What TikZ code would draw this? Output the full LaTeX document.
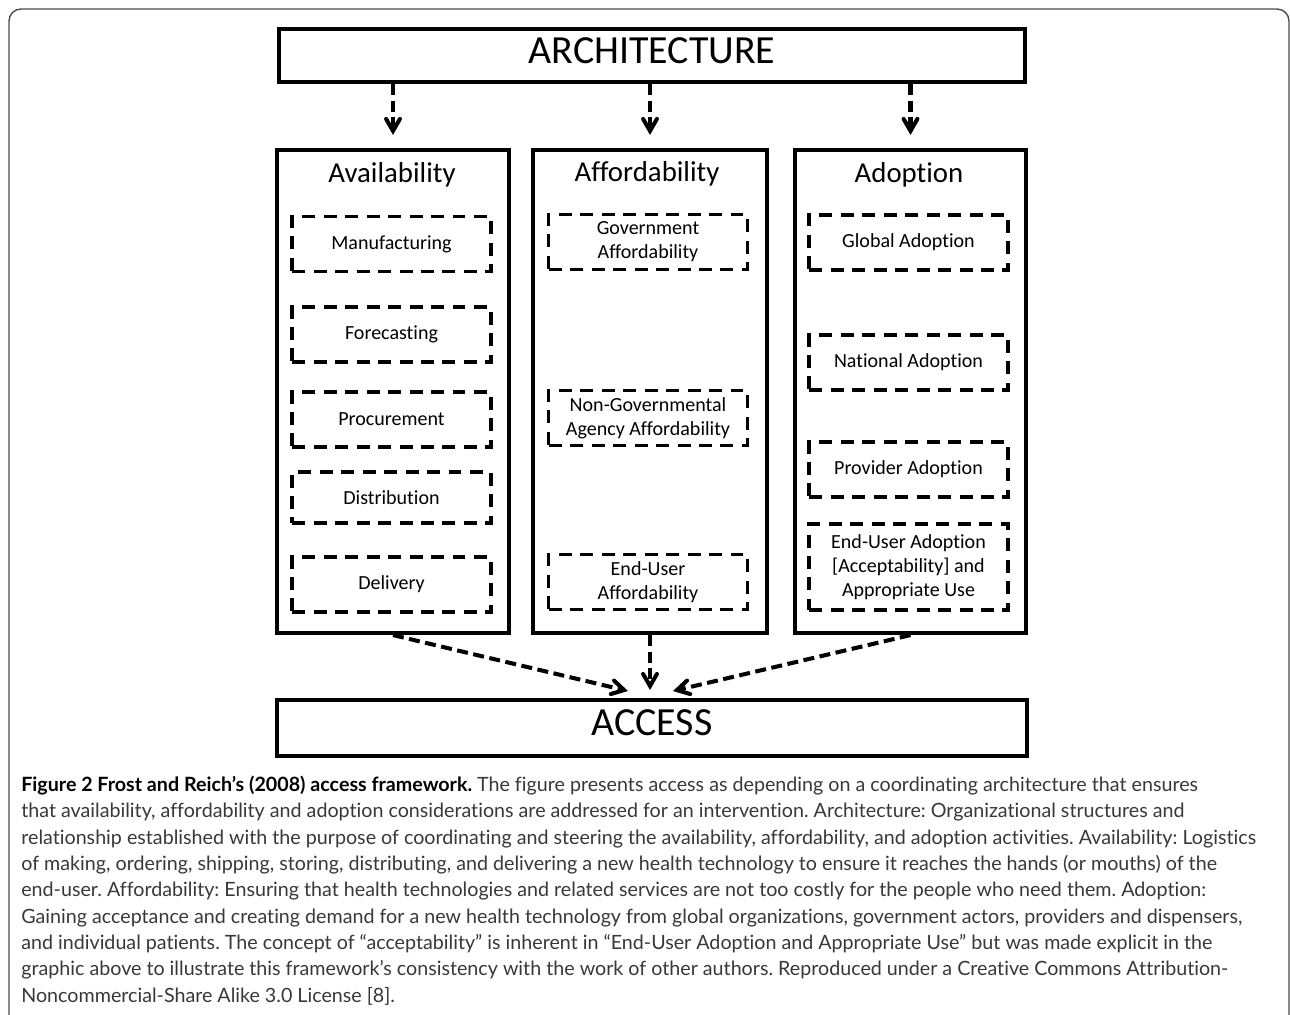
\documentclass[tikz,border=0pt]{standalone}
\usepackage{fontspec}
\setmainfont{Carlito}[Ligatures={TeX,CommonOff}]
\newfontfamily\capfont{Lato}[Ligatures={TeX,CommonOff}]
\usepackage{tikz}
\usetikzlibrary{shapes,arrows}
\usetikzlibrary{calc,positioning}
\frenchspacing

\begin{document}
\begin{tikzpicture}[x=0.02cm,y=-0.02cm,
	outerbox/.style={draw,rectangle,line width=2.4pt,inner sep=0pt},
	dashbox/.style={draw,rectangle,line width=2pt,dash pattern=on 0.26cm off 0.17cm,
		minimum width=3.98cm,minimum height=1.1cm,inner sep=0pt,align=center,
		font=\fontsize{11.4}{13.6}\selectfont},
	title/.style={font=\fontsize{16.4}{20}\selectfont},
	flow/.style={line width=2.3pt,->,>= angle 60,dash pattern=on 0.22cm off 0.11cm}]
	\useasboundingbox (0,0) rectangle (1290,1014);
	% frame round the figure and caption
	\draw[black!70,line width=0.8pt,rounded corners=0.24cm] (9,9) rectangle (1289,1040);

	\node[outerbox,minimum width=14.92cm,minimum height=1.06cm,text depth=0.2cm,
		font=\fontsize{22.7}{27}\selectfont] (arch) at (652,55.5) {ARCHITECTURE};
	\node[outerbox,minimum width=15cm,minimum height=1.12cm,text depth=0.2cm,
		font=\fontsize{22.7}{27}\selectfont] (access) at (652,728) {ACCESS};

	% the three columns
	\node[outerbox,minimum width=4.64cm,minimum height=9.66cm] (avail) at (393,391.5) {};
	\node[outerbox,minimum width=4.68cm,minimum height=9.66cm] (afford) at (650,391.5) {};
	\node[outerbox,minimum width=4.62cm,minimum height=9.66cm] (adopt) at (910.5,391.5) {};
	\node[title] (availT) at (392,175) {Availability};
	\node[title] (affordT) at (647,174) {Affordability};
	\node[title] (adoptT) at (909,175) {Adoption};

	\node[dashbox] (manu) at (391.5,244) {Manufacturing};
	\node[dashbox] (fore) at (391.5,334.5) {Forecasting};
	\node[dashbox] (proc) at (391.5,419.5) {Procurement};
	\node[dashbox,minimum height=1.02cm] (distr) at (391.5,497.5) {Distribution};
	\node[dashbox] (deliv) at (391.5,584.5) {Delivery};

	\node[dashbox] (govaff) at (648,242) {Government\\Affordability};
	\node[dashbox] (ngoaff) at (648,418) {Non-Governmental\\Agency Affordability};
	\node[dashbox] (useraff) at (648,582) {End-User\\Affordability};

	\node[dashbox] (global) at (908.5,242.5) {Global Adoption};
	\node[dashbox] (nation) at (908.5,362.5) {National Adoption};
	\node[dashbox] (provid) at (908.5,469.5) {Provider Adoption};
	\node[dashbox,minimum height=1.72cm] (useradopt) at (908.5,567) {End-User Adoption\\{}[Acceptability] and\\Appropriate Use};

	% arrows
	\draw[flow,shorten >=0.26cm] (arch.south -| avail.north) -- (avail.north);
	\draw[flow,shorten >=0.26cm] (arch.south -| afford.north) -- (afford.north);
	\draw[flow,shorten >=0.26cm] (arch.south -| adopt.north) -- (adopt.north);
	\coordinate (inL) at (628,691);
	\coordinate (inM) at (650,690);
	\coordinate (inR) at (673,691);
	\draw[flow] (avail.south) -- (inL);
	\draw[flow] (afford.south) -- (inM);
	\draw[flow] (adopt.south) -- (inR);

	\node[anchor=north west,inner sep=0pt,align=left,text=black!78,
		font=\capfont\fontsize{11.2}{15}\selectfont] (caption) at (21,775.5)
	{{\color{black}\bfseries Figure 2 Frost and Reich’s (2008) access framework.} The figure presents access as depending on a coordinating architecture that ensures\\
	that availability, affordability and adoption considerations are addressed for an intervention. Architecture: Organizational structures and\\
	relationship established with the purpose of coordinating and steering the availability, affordability, and adoption activities. Availability: Logistics\\
	of making, ordering, shipping, storing, distributing, and delivering a new health technology to ensure it reaches the hands (or mouths) of the\\
	end-user. Affordability: Ensuring that health technologies and related services are not too costly for the people who need them. Adoption:\\
	Gaining acceptance and creating demand for a new health technology from global organizations, government actors, providers and dispensers,\\
	and individual patients. The concept of “acceptability” is inherent in “End-User Adoption and Appropriate Use” but was made explicit in the\\
	graphic above to illustrate this framework’s consistency with the work of other authors. Reproduced under a Creative Commons Attribution-\\
	Noncommercial-Share Alike 3.0 License [8].};
\end{tikzpicture}
\end{document}
